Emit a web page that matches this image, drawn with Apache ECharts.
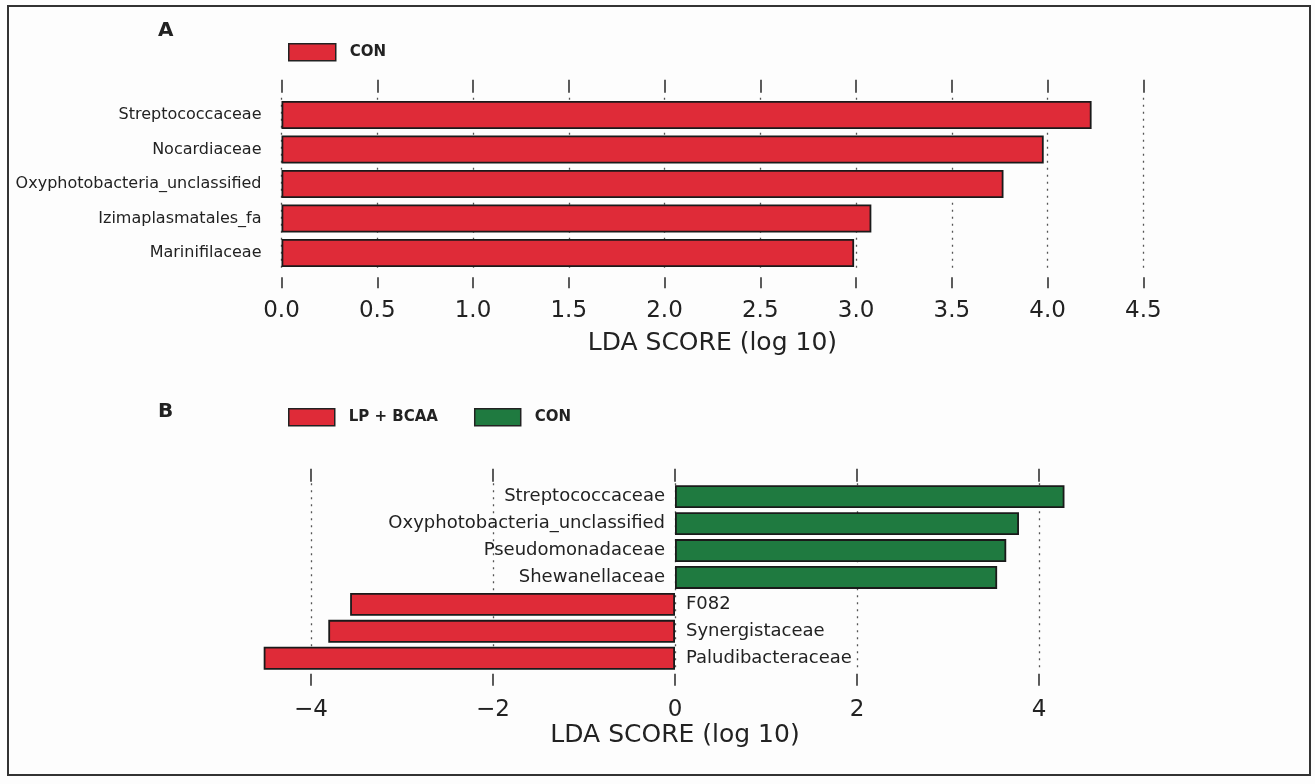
<!DOCTYPE html>
<html>
<head>
<meta charset="utf-8">
<script src="https://cdn.jsdelivr.net/npm/echarts@6/dist/echarts.min.js"></script>
<style>
html,body{margin:0;padding:0;background:#fdfdfd;}
#chart{width:1315px;height:784px;}
</style>
</head>
<body>
<div id="chart"></div>
<script>
// Panel A data
const catsA = ['Streptococcaceae', 'Nocardiaceae', 'Oxyphotobacteria_unclassified', 'Izimaplasmatales_fa', 'Marinifilaceae'];
const valsA_CON = [4.23, 3.98, 3.77, 3.08, 2.99];
const ticksA = [0, 0.5, 1, 1.5, 2, 2.5, 3, 3.5, 4, 4.5];

// Panel B data
const catsB = ['Streptococcaceae', 'Oxyphotobacteria_unclassified', 'Pseudomonadaceae', 'Shewanellaceae', 'F082', 'Synergistaceae', 'Paludibacteraceae'];
const valsB_CON = [4.28, 3.78, 3.64, 3.54, null, null, null];
const valsB_LPBCAA = [null, null, null, null, -3.57, -3.81, -4.52];
const ticksB = [-4, -2, 0, 2, 4];

const RED = '#df2b38';
const GREEN = '#1f7a40';
const INK = '#222';
const FONT = 'DejaVu Sans';

const chart = echarts.init(document.getElementById('chart'), null, {renderer: 'canvas'});

const dotted = {show: true, lineStyle: {color: '#555', type: [2, 5], width: 1.3}};
const tickStyle = {color: '#333', width: 1.6};

const option = {
  backgroundColor: '#fdfdfd',
  animation: false,
  textStyle: {fontFamily: FONT, color: INK},
  graphic: [
    {type: 'rect', shape: {x: 8, y: 6, width: 1302, height: 769}, style: {fill: 'none', stroke: '#333', lineWidth: 2}, silent: true},
    {type: 'text', left: 158, top: 21, style: {text: 'A', font: 'bold 20px "DejaVu Sans"', fill: INK}},
    {type: 'text', left: 158, top: 402, style: {text: 'B', font: 'bold 20px "DejaVu Sans"', fill: INK}}
  ],
  legend: [
    {
      left: 288, top: 43, padding: 0, orient: 'horizontal', icon: 'rect',
      itemWidth: 47, itemHeight: 17, itemGap: 36,
      textStyle: {fontFamily: FONT, fontWeight: 'bold', fontSize: 15, color: INK, padding: [0, 0, 0, 9]},
      data: [{name: 'CON', itemStyle: {color: RED, borderColor: '#222', borderWidth: 1.5}}]
    },
    {
      left: 288, top: 408, padding: 0, orient: 'horizontal', icon: 'rect',
      itemWidth: 46, itemHeight: 17, itemGap: 36,
      textStyle: {fontFamily: FONT, fontWeight: 'bold', fontSize: 15, color: INK, padding: [0, 0, 0, 9]},
      data: [
        {name: 'LP + BCAA', itemStyle: {color: RED, borderColor: '#222', borderWidth: 1.5}},
        {name: 'CON', itemStyle: {color: GREEN, borderColor: '#222', borderWidth: 1.5}}
      ]
    }
  ],
  grid: [
    {left: 281.5, right: 171.7, top: 97.75, height: 172.5, containLabel: false},
    {left: 238.2, right: 203.2, top: 483.2, height: 188.5, containLabel: false}
  ],
  xAxis: [
    { // A bottom
      gridIndex: 0, type: 'value', position: 'bottom', min: 0, max: 4.5, interval: 0.5, offset: 7,
      axisLine: {show: false},
      axisTick: {show: true, length: 11, lineStyle: tickStyle},
      axisLabel: {show: true, margin: 22, fontSize: 23, color: INK, fontFamily: FONT,
        formatter: v => v.toFixed(1)},
      splitLine: dotted,
      name: 'LDA SCORE (log 10)', nameLocation: 'middle', nameGap: 54,
      nameTextStyle: {fontSize: 25, color: INK, fontFamily: FONT}
    },
    { // A top
      gridIndex: 0, type: 'value', position: 'top', min: 0, max: 4.5, interval: 0.5, offset: 5,
      axisLine: {show: false},
      axisTick: {show: true, length: 13, lineStyle: tickStyle},
      axisLabel: {show: false},
      splitLine: {show: false}
    },
    { // B bottom
      gridIndex: 1, type: 'value', position: 'bottom', min: -4.8, max: 4.8, offset: 2,
      axisLine: {show: false},
      axisTick: {show: true, length: 12, lineStyle: tickStyle, customValues: ticksB},
      axisLabel: {show: true, margin: 25, fontSize: 23, color: INK, fontFamily: FONT, customValues: ticksB,
        formatter: v => (v < 0 ? '\u2212' + Math.abs(v) : String(v))},
      splitLine: dotted,
      name: 'LDA SCORE (log 10)', nameLocation: 'middle', nameGap: 46,
      nameTextStyle: {fontSize: 25, color: INK, fontFamily: FONT}
    },
    { // B top
      gridIndex: 1, type: 'value', position: 'top', min: -4.8, max: 4.8, offset: 1.5,
      axisLine: {show: false},
      axisTick: {show: true, length: 13, lineStyle: tickStyle, customValues: ticksB},
      axisLabel: {show: false, customValues: ticksB},
      splitLine: {show: false}
    }
  ],
  yAxis: [
    {
      gridIndex: 0, type: 'category', inverse: true, data: catsA,
      axisLine: {show: false}, axisTick: {show: false},
      axisLabel: {margin: 20, fontSize: 16, color: INK, fontFamily: FONT}
    },
    {
      gridIndex: 1, type: 'category', inverse: true, data: catsB,
      axisLine: {show: false}, axisTick: {show: false},
      axisLabel: {show: false}
    }
  ],
  series: [
    {
      name: 'CON', type: 'bar', xAxisIndex: 0, yAxisIndex: 0, data: valsA_CON,
      barWidth: '81%',
      itemStyle: {color: RED, borderColor: '#1a1a1a', borderWidth: 1.8},
      z: 3
    },
    {
      name: 'LP + BCAA', type: 'bar', xAxisIndex: 2, yAxisIndex: 1, data: valsB_LPBCAA,
      stack: 'b', barWidth: '85%',
      itemStyle: {color: RED, borderColor: '#1a1a1a', borderWidth: 1.8},
      label: {show: true, position: 'right', distance: 11, formatter: '{b}', fontSize: 18, color: INK, fontFamily: FONT},
      z: 3
    },
    {
      name: 'CON', type: 'bar', xAxisIndex: 2, yAxisIndex: 1, data: valsB_CON,
      stack: 'b', barWidth: '85%',
      itemStyle: {color: GREEN, borderColor: '#1a1a1a', borderWidth: 1.8},
      label: {show: true, position: 'left', distance: 10, formatter: '{b}', fontSize: 18, color: INK, fontFamily: FONT},
      z: 3
    }
  ]
};
chart.setOption(option);
</script>
</body>
</html>
